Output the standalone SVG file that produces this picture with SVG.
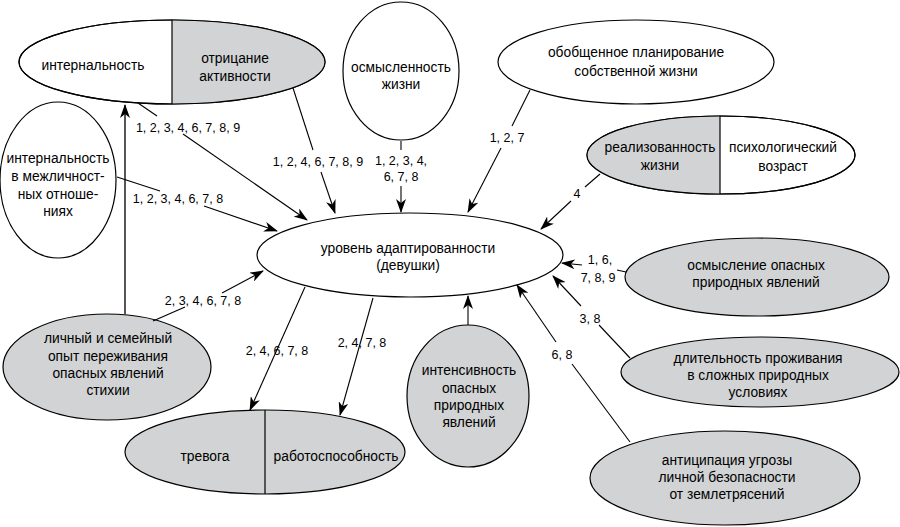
<svg xmlns="http://www.w3.org/2000/svg" width="900" height="527" viewBox="0 0 900 527">
<defs>
<marker id="ah" markerUnits="userSpaceOnUse" markerWidth="14" markerHeight="10" refX="13" refY="5" orient="auto">
<path d="M0,0 L14,5 L0,10 L4,5 z" fill="#000"/>
</marker>
<style>
text{font-family:"Liberation Sans",Arial,sans-serif;font-size:13.8px;fill:#000;text-anchor:middle}
text.l{font-size:12.5px}
.n{stroke:#000;stroke-width:1.2}
.w{fill:#fff}
.g{fill:#d1d3d4}
.e{stroke:#000;stroke-width:1.1;fill:none}
.a{marker-end:url(#ah)}
</style>
<clipPath id="c1"><ellipse cx="172" cy="62" rx="153" ry="42"/></clipPath>
<clipPath id="c2"><ellipse cx="721" cy="155" rx="134" ry="39"/></clipPath>
</defs>
<rect width="900" height="527" fill="#fff"/>

<g id="n-internal">
<ellipse class="n w" cx="172" cy="62" rx="153" ry="42"/>
<rect class="g" x="172" y="18" width="160" height="90" clip-path="url(#c1)"/>
<ellipse class="n" fill="none" cx="172" cy="62" rx="153" ry="42"/>
<line class="n" x1="172" y1="20" x2="172" y2="104"/>
<text x="93" y="70">интернальность</text>
<text x="235" y="63">отрицание</text>
<text x="235" y="81">активности</text>
</g>

<g id="n-interpersonal">
<ellipse class="n w" cx="58" cy="180" rx="58" ry="78"/>
<text x="58" y="163">интернальность</text>
<text x="58" y="181">в межличност-</text>
<text x="58" y="199">ных отноше-</text>
<text x="58" y="216">ниях</text>
</g>

<g id="n-meaning">
<ellipse class="n w" cx="401" cy="71" rx="58" ry="69"/>
<text x="401" y="72">осмысленность</text>
<text x="401" y="89">жизни</text>
</g>

<g id="n-planning">
<ellipse class="n w" cx="636" cy="62" rx="138" ry="42"/>
<text x="636" y="57">обобщенное планирование</text>
<text x="636" y="76">собственной жизни</text>
</g>

<g id="n-realization">
<ellipse class="n w" cx="721" cy="155" rx="134" ry="39"/>
<rect class="g" x="580" y="110" width="140" height="90" clip-path="url(#c2)"/>
<ellipse class="n" fill="none" cx="721" cy="155" rx="134" ry="39"/>
<line class="n" x1="720" y1="116" x2="720" y2="194"/>
<text x="660" y="152">реализованность</text>
<text x="660" y="170">жизни</text>
<text x="783" y="152">психологический</text>
<text x="783" y="171">возраст</text>
</g>

<g id="n-center">
<ellipse class="n w" cx="410" cy="255" rx="153" ry="42"/>
<text x="408" y="253">уровень адаптированности</text>
<text x="408" y="270">(девушки)</text>
</g>

<g id="n-comprehension">
<ellipse class="n g" cx="757" cy="277" rx="132" ry="39"/>
<text x="756" y="270">осмысление опасных</text>
<text x="756" y="287">природных явлений</text>
</g>

<g id="n-duration">
<ellipse class="n g" cx="760" cy="372" rx="139" ry="35"/>
<text x="758" y="363">длительность проживания</text>
<text x="758" y="380">в сложных природных</text>
<text x="758" y="397">условиях</text>
</g>

<g id="n-anticipation">
<ellipse class="n g" cx="725" cy="478" rx="135" ry="47"/>
<text x="727" y="465">антиципация угрозы</text>
<text x="727" y="482">личной безопасности</text>
<text x="727" y="499">от землетрясений</text>
</g>

<g id="n-intensity">
<ellipse class="n g" cx="468" cy="396" rx="61" ry="71"/>
<text x="469" y="375">интенсивность</text>
<text x="469" y="393">опасных</text>
<text x="469" y="410">природных</text>
<text x="469" y="427">явлений</text>
</g>

<g id="n-experience">
<ellipse class="n g" cx="107" cy="367" rx="104" ry="53"/>
<text x="108" y="343">личный и семейный</text>
<text x="108" y="361">опыт переживания</text>
<text x="108" y="378">опасных явлений</text>
<text x="108" y="395">стихии</text>
</g>

<g id="n-anxiety">
<ellipse class="n g" cx="265" cy="452" rx="140" ry="42"/>
<line class="n" x1="265" y1="410" x2="265" y2="494"/>
<text x="205" y="461">тревога</text>
<text x="336" y="461">работоспособность</text>
</g>

<g id="connectors">
<line x1="125" y1="315" x2="125" y2="105" stroke="#444" stroke-width="1.8" class="a"/>

<line class="e" x1="138" y1="103" x2="157" y2="116"/>
<line class="e a" x1="183" y1="134" x2="307" y2="220"/>
<text class="l" x="188" y="132">1, 2, 3, 4, 6, 7, 8, 9</text>

<line class="e" x1="117" y1="177" x2="160" y2="191"/>
<line class="e a" x1="204" y1="206" x2="277" y2="231"/>
<text class="l" x="178" y="203">1, 2, 3, 4, 6, 7, 8</text>

<line class="e" x1="293" y1="88" x2="313" y2="150"/>
<line class="e a" x1="321" y1="172" x2="335" y2="213"/>
<text class="l" x="318" y="166">1, 2, 4, 6, 7, 8, 9</text>

<line class="e" x1="401" y1="141" x2="401" y2="150"/>
<line class="e a" x1="401" y1="186" x2="401" y2="212"/>
<text class="l" x="401" y="165">1, 2, 3, 4,</text>
<text class="l" x="401" y="181">6, 7, 8</text>

<line class="e" x1="530" y1="90" x2="512" y2="126"/>
<line class="e a" x1="501" y1="148" x2="468" y2="212"/>
<text class="l" x="507" y="142">1, 2, 7</text>

<line class="e" x1="600" y1="174" x2="585" y2="187"/>
<line class="e a" x1="571" y1="201" x2="541" y2="229"/>
<text class="l" x="577" y="198">4</text>

<line class="e" x1="617" y1="270" x2="626" y2="272"/>
<line class="e a" x1="582" y1="265" x2="562" y2="263"/>
<text class="l" x="600" y="264">1, 6,</text>
<text class="l" x="598" y="282">7, 8, 9</text>

<line class="e" x1="630" y1="358" x2="599" y2="325"/>
<line class="e a" x1="581" y1="306" x2="553" y2="276"/>
<text class="l" x="590" y="323">3, 8</text>

<line class="e" x1="630" y1="442" x2="572" y2="364"/>
<line class="e a" x1="556" y1="342" x2="517" y2="285"/>
<text class="l" x="562" y="359">6, 8</text>

<line class="e a" x1="468" y1="325" x2="468" y2="296"/>

<line class="e" x1="153" y1="321" x2="185" y2="307"/>
<line class="e a" x1="222" y1="293" x2="263" y2="271"/>
<text class="l" x="203" y="305">2, 3, 4, 6, 7, 8</text>

<line class="e a" x1="305" y1="287" x2="250" y2="410"/>
<text class="l" x="277" y="355">2, 4, 6, 7, 8</text>

<line class="e a" x1="373" y1="298" x2="340" y2="415"/>
<text class="l" x="362" y="347">2, 4, 7, 8</text>
</g>
</svg>
